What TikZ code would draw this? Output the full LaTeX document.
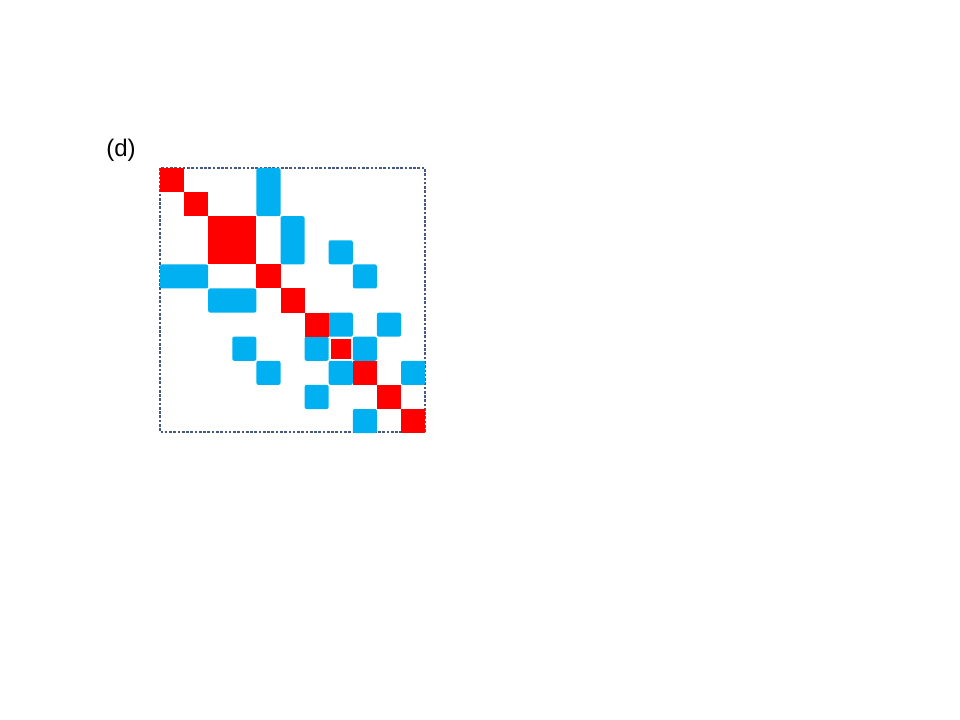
\documentclass[tikz,border=0pt]{standalone}
\usepackage{fontspec}
\setmainfont{Liberation Sans}
\usetikzlibrary{positioning}
\definecolor{cellred}{RGB}{255, 0, 0}
\definecolor{cellblue}{RGB}{0, 176, 240}
\definecolor{frameslate}{RGB}{68, 90, 130}

\begin{document}
\begin{tikzpicture}[x=0.75pt, y=-0.75pt,
    redcell/.style={fill=cellred},
    bluecell/.style={fill=cellblue, rounded corners=1.5pt},
    frameline/.style={draw=frameslate, line width=2.2pt, dash pattern=on 2pt off 1.2pt}]
        \useasboundingbox (0,0) rectangle (960,720);
        % ── Panel label ─────────────────────────────────────────────────
        \node[font=\fontsize{18}{20}\selectfont] (label) at (121, 150) {(d)};
        
        % ── Dotted frame of the matrix ──────────────────────────────────
        \draw[frameline] (160,168) rectangle (425,432);
        
        % ── Off-diagonal blocks  (row/col/height/width) ─────────────────
        \foreach \r/\c/\h/\w in {0/4/2/1, 2/5/2/1, 3/7/1/1, 4/8/1/1,
        	4/0/1/2, 5/2/1/2, 6/7/1/1, 6/9/1/1, 7/3/1/1, 7/6/1/1, 7/8/1/1,
        	8/4/1/1, 8/7/1/1, 8/10/1/1, 9/6/1/1, 10/8/1/1}{
        	\fill[bluecell] ({160+24.1*\c},{168+24.1*\r}) rectangle ++({24.1*\w},{24.1*\h});
        }
        
        % ── Diagonal blocks ─────────────────────────────────────────────
        \foreach \r/\s in {0/1, 1/1, 2/2, 4/1, 5/1, 6/1, 8/1, 9/1, 10/1}{
        	\fill[redcell] ({160+24.1*\r},{168+24.1*\r}) rectangle ++({24.1*\s},{24.1*\s});
        }
        % centre of the blue cross, drawn a little smaller
        \fill[redcell] ({160+24.1*7+2},{168+24.1*7+2}) rectangle ++(20.1,20.1);
      \end{tikzpicture}
\end{document}
